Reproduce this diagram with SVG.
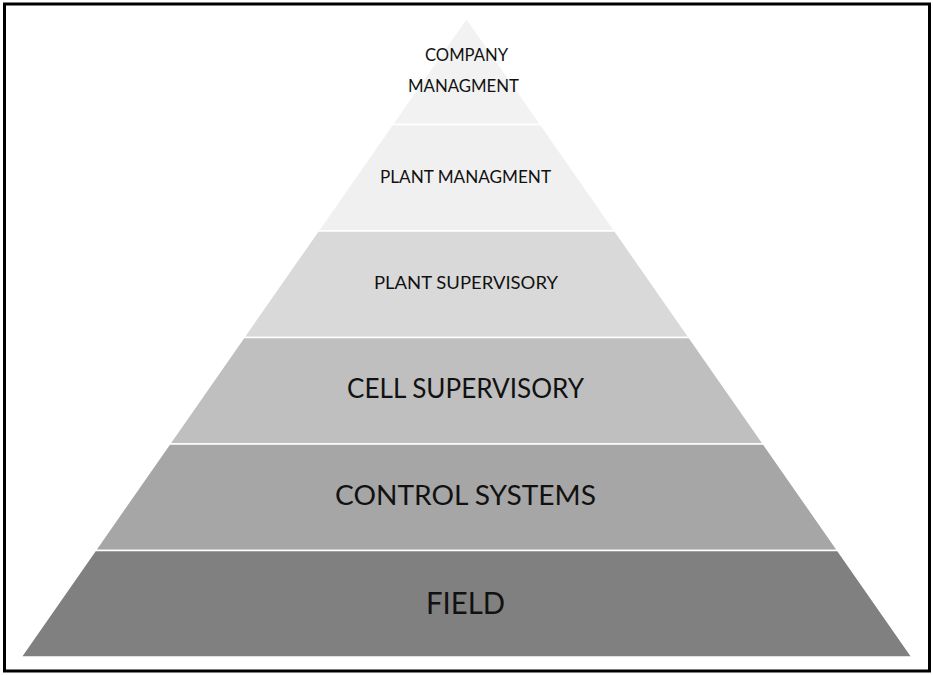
<svg xmlns="http://www.w3.org/2000/svg" width="933" height="675" viewBox="0 0 933 675">
<style>
.layer{stroke:#ffffff;stroke-width:1.5}
.t{font-family:Lato,"Open Sans","Liberation Sans",sans-serif;fill:#111111;text-anchor:middle}
.s{font-size:17px}
.m{font-size:26px}
.l{font-size:31px}
</style>
<rect x="0" y="0" width="933" height="675" fill="#ffffff"/>
<rect x="4.5" y="4" width="925" height="667" fill="#ffffff" stroke="#000000" stroke-width="3"/>
<g id="company">
<polygon class="layer" fill="#f2f2f2" points="466.5,18 540.75,124.5 392.25,124.5"/>
<text class="t s" x="466.5" y="61" textLength="83" lengthAdjust="spacingAndGlyphs">COMPANY</text>
<text class="t s" x="463.5" y="92" textLength="111" lengthAdjust="spacingAndGlyphs">MANAGMENT</text>
</g>
<g id="plant-management">
<polygon class="layer" fill="#f0f0f0" points="392.25,124.5 540.75,124.5 615,231 318,231"/>
<text class="t s" x="465.5" y="183" textLength="171" lengthAdjust="spacingAndGlyphs">PLANT MANAGMENT</text>
</g>
<g id="plant-supervisory">
<polygon class="layer" fill="#d9d9d9" points="318,231 615,231 689.25,337.5 243.75,337.5"/>
<text class="t s" x="466" y="289" textLength="184" lengthAdjust="spacingAndGlyphs">PLANT SUPERVISORY</text>
</g>
<g id="cell-supervisory">
<polygon class="layer" fill="#bfbfbf" points="243.75,337.5 689.25,337.5 763.5,444 169.5,444"/>
<text class="t m" x="465.5" y="398" textLength="237" lengthAdjust="spacingAndGlyphs">CELL SUPERVISORY</text>
</g>
<g id="control-systems">
<polygon class="layer" fill="#a6a6a6" points="169.5,444 763.5,444 837.75,550.5 95.25,550.5"/>
<text class="t m" x="465.5" y="505" textLength="261" lengthAdjust="spacingAndGlyphs">CONTROL SYSTEMS</text>
</g>
<g id="field">
<polygon class="layer" fill="#808080" points="95.25,550.5 837.75,550.5 912,657 21,657"/>
<text class="t l" x="465.5" y="614" textLength="79" lengthAdjust="spacingAndGlyphs">FIELD</text>
</g>
<g id="connectors"></g>
</svg>
